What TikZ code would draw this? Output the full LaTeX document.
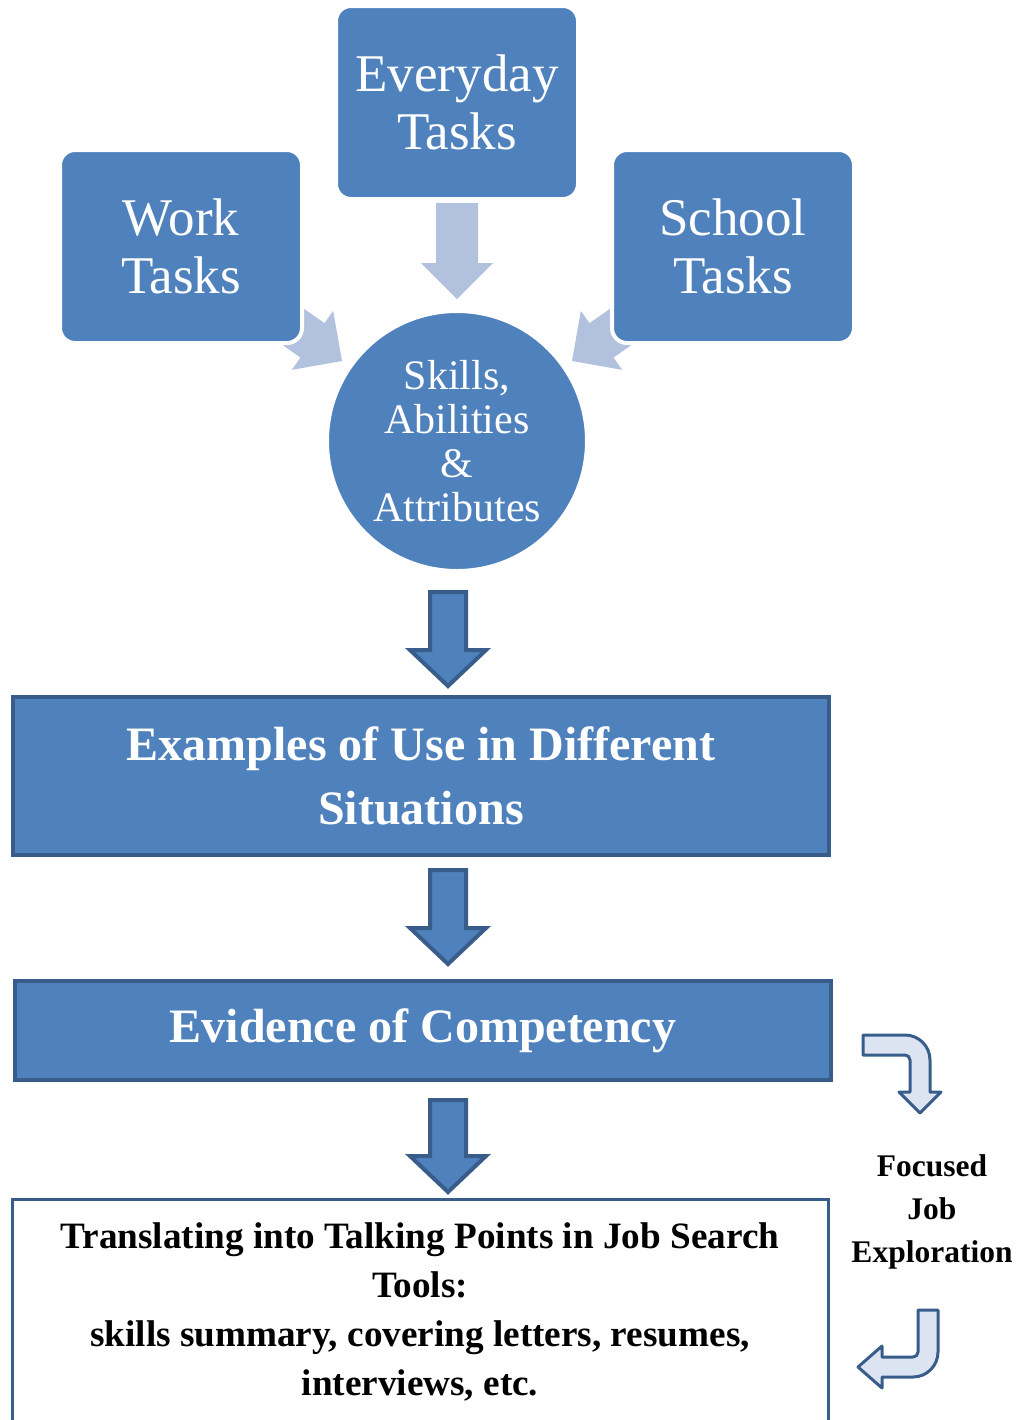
\documentclass[tikz,border=0pt]{standalone}
\usepackage{fontspec}
\setmainfont{Liberation Serif}
\usepackage{xcolor}
\usetikzlibrary{shapes,arrows}
\definecolor{boxblue}{RGB}{79,129,189}
\definecolor{edgeblue}{RGB}{56,93,138}
\definecolor{paleblue}{RGB}{178,194,222}
\definecolor{iceblue}{RGB}{220,228,242}
\newcommand{\dropArrow}[3]{\filldraw[darkarrow] (#1-18,#2) -- (#1+18,#2) -- (#1+18,#3-36) -- (#1+38,#3-36) -- (#1,#3) -- (#1-38,#3-36) -- (#1-18,#3-36) -- cycle;}
\newcommand{\paleArrow}[4]{\begin{scope}[shift={(#1,#2)},rotate=#3]\fill[paleblue] (0,0) -- (-36,36) -- (-36,21) -- (-#4,21) -- (-#4,-21) -- (-36,-21) -- (-36,-36) -- cycle;\end{scope}}

\begin{document}
\begin{tikzpicture}[x=0.5pt,y=-0.5pt,
	taskbox/.style={rectangle,rounded corners=7.5pt,fill=boxblue,draw=white,line width=2pt,minimum width=121pt,minimum height=96.5pt,inner sep=0pt,text=white,align=center,font=\fontsize{26.5}{29}\selectfont},
	hub/.style={circle,fill=boxblue,draw=white,line width=2pt,minimum size=130pt,inner sep=0pt,text=white,align=center,font=\fontsize{21}{22}\selectfont},
	stage/.style={rectangle,fill=boxblue,draw=edgeblue,line width=2pt,minimum width=408pt,inner sep=0pt,text=white,align=center,font=\bfseries\fontsize{24}{32}\selectfont},
	outcome/.style={rectangle,fill=white,draw=edgeblue,line width=1.5pt,minimum width=408pt,minimum height=112.5pt,inner sep=0pt,align=center,font=\bfseries\fontsize{18.6}{24.5}\selectfont},
	darkarrow/.style={fill=boxblue,draw=edgeblue,line width=2pt},
	bendarrow/.style={fill=iceblue,draw=edgeblue,line width=1.5pt,line join=round}]
		\useasboundingbox (0,0) rectangle (1018,1420);
		\clip (0,0) rectangle (1018,1420);
		\paleArrow{457}{299}{-90}{96}
		\paleArrow{342}{361}{-35}{140}
		\paleArrow{572}{361}{-145}{140}
		\node (every)[taskbox] at (457,102.5) {Everyday\\Tasks};
		\node (work)[taskbox] at (181,246.5) {Work\\Tasks};
		\node (school)[taskbox] at (733,246.5) {School\\Tasks};
		\node (skills)[hub] at (457,441) {Skills,\\Abilities\\\&\\Attributes};
		\dropArrow{448}{592}{686}
		\node (examples)[stage,minimum height=79pt] at (421,776) {Examples of Use in Different\\Situations};
		\dropArrow{448}{870}{964}
		\node (evidence)[stage,minimum height=49.5pt] at (423,1030.5) {Evidence of Competency};
		\dropArrow{448}{1100}{1192}
		\node (talking)[outcome] at (420,1311.5) {Translating into Talking Points in Job Search\\Tools:\\skills summary, covering letters, resumes,\\interviews, etc.};
		\filldraw[bendarrow] (863,1035) -- (905,1035) .. controls (918.8,1035) and (930,1046.2) .. (930,1060) -- (930,1092) -- (941,1092) -- (920,1113) -- (899,1092) -- (910,1092) -- (910,1060) .. controls (910,1057.2) and (907.8,1055) .. (905,1055) -- (863,1055) -- cycle;
		\node (focus)[align=center,font=\bfseries\fontsize{15.75}{21.5}\selectfont] at (932,1212) {Focused\\Job\\Exploration};
		\filldraw[bendarrow] (918,1310) -- (938,1310) -- (938,1352) .. controls (938,1365.8) and (926.8,1377) .. (913,1377) -- (882,1377) -- (882,1388) -- (858,1367) -- (882,1346) -- (882,1357) -- (913,1357) .. controls (915.8,1357) and (918,1354.8) .. (918,1352) -- cycle;
		\end{tikzpicture}
\end{document}
